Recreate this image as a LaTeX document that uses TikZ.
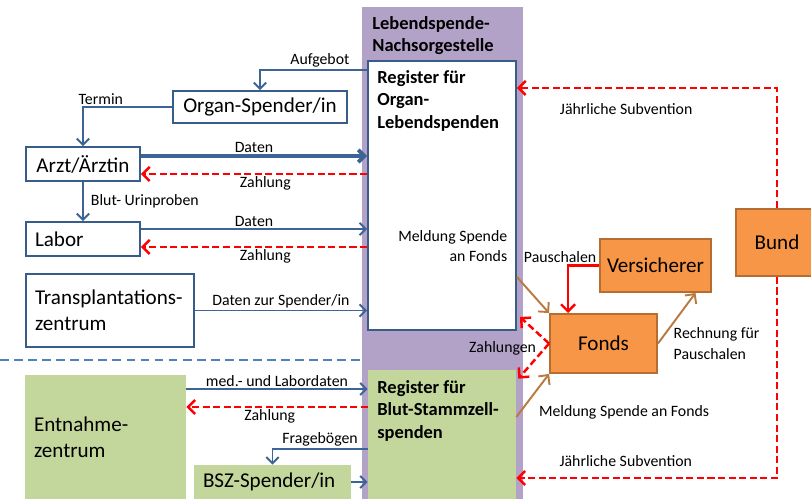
\documentclass[tikz,border=0pt]{standalone}
\usepackage{fontspec}
\setmainfont{Carlito}
\usetikzlibrary{arrows.meta,positioning,calc}
\definecolor{boxblue}{RGB}{56,93,138}
\definecolor{linkblue}{RGB}{60,100,150}
\definecolor{sepblue}{RGB}{79,129,189}
\definecolor{lilac}{RGB}{179,162,199}
\definecolor{bszgreen}{RGB}{195,214,155}
\definecolor{fondsorange}{RGB}{247,150,70}
\definecolor{orangeline}{RGB}{182,109,49}
\definecolor{brownarrow}{RGB}{185,122,63}

\begin{document}
\begin{tikzpicture}[x=0.02cm,y=-0.02cm,
  font=\fontsize{9}{11.5}\selectfont,
  big/.style={font=\fontsize{12}{15}\selectfont},
  box/.style={draw=boxblue,line width=1.1pt,fill=white,big,inner xsep=0.18cm,inner ysep=0pt},
  gbox/.style={fill=bszgreen,big,inner xsep=0.18cm,inner ysep=0pt},
  obox/.style={draw=orangeline,line width=1.1pt,fill=fondsorange,big,inner sep=0pt},
  head/.style={anchor=north west,align=left,font=\fontsize{10.5}{12.8}\selectfont\bfseries,inner sep=0pt},
  lbl/.style={inner sep=1pt,text=black},
  flow/.style={-{Straight Barb[length=3.5pt,width=7pt]},linkblue,line width=1.1pt},
  pay/.style={-{Straight Barb[length=4pt,width=8pt]},red,line width=1.4pt,dash pattern=on 4pt off 2pt},
  paysolid/.style={-{Straight Barb[length=4pt,width=8pt]},red,line width=1.4pt},
  fund/.style={-{Straight Barb[length=4pt,width=8pt]},brownarrow,line width=1.1pt},
  divider/.style={sepblue,line width=0.9pt,dash pattern=on 5pt off 3pt}
]
  \useasboundingbox (0,0) rectangle (811,499);

  % Nachsorgestelle mit den beiden Registern
  \node[fill=lilac,minimum width=3.22cm,minimum height=9.84cm,inner sep=0pt] (lns) at (442.5,253) {};
  \node[head] (lnstitle) at (372,16) {Lebendspende-\\Nachsorgestelle};
  \node[box,minimum width=2.96cm,minimum height=5.38cm,inner sep=0pt] (reg) at (442,195.5) {};
  \node[head] (regtitle) at (377,70) {Register für\\Organ-\\Lebendspenden};
  \node[gbox,minimum width=2.96cm,minimum height=2.58cm,inner sep=0pt] (bsz) at (442,434.5) {};
  \node[head] (bsztitle) at (377,380) {Register für\\Blut-Stammzell-\\spenden};

  % Beteiligte
  \node[box,minimum width=3.48cm,minimum height=0.64cm] (ospender) at (260,107) {Organ-Spender/in};
  \node[box,minimum width=2.28cm,minimum height=0.68cm] (arzt) at (83,164) {Arzt/Ärztin};
  \node[box,text width=1.92cm,align=left,minimum height=0.68cm] (labor) at (83,239) {Labor};
  \node[box,text width=3.0cm,align=left,minimum height=1.46cm] (tpz) at (110,310.5) {Transplantations-\\zentrum};
  \node[gbox,text width=2.86cm,align=left,minimum height=2.48cm] (entnahme) at (105.5,437) {Entnahme-\\zentrum};
  \node[gbox,text width=2.78cm,align=left,minimum height=0.68cm] (bszspender) at (272.5,482) {BSZ-Spender/in};
  \node[obox,minimum width=2.22cm,minimum height=1.06cm] (versicherer) at (655.5,265.5) {Versicherer};
  \node[obox,minimum width=2.14cm,minimum height=1.18cm] (fonds) at (603.5,343.5) {Fonds};
  \node[obox,minimum width=1.64cm,minimum height=1.34cm] (bund) at (777,242.5) {Bund};

  % Organ-Lebendspende
  \draw[flow] (reg.west |- 0,70) -| node[lbl,pos=0.22,above]{Aufgebot} (ospender.north);
  \draw[flow] (ospender.west) -| node[lbl,pos=0.4,above]{Termin} (arzt.north);
  \draw[flow,line width=2.2pt] (arzt.east |- 0,156) -- node[lbl,above]{Daten} (reg.west |- 0,156);
  \draw[pay] (reg.west |- 0,174) -- node[lbl,pos=0.45,below]{Zahlung} (arzt.east |- 0,174);
  \draw[flow] (arzt.south) -- node[lbl,right=3pt]{Blut- Urinproben} (labor.north);
  \draw[flow] (labor.east |- 0,229) -- node[lbl,above]{Daten} (reg.west |- 0,229);
  \draw[pay] (reg.west |- 0,247) -- node[lbl,pos=0.45,below]{Zahlung} (labor.east |- 0,247);
  \draw[flow] (tpz.east) -- node[lbl,above]{Daten zur Spender/in} (reg.west |- tpz.east);

  \draw[divider] (0,360) -- (lns.west |- 0,360);

  % Blutstammzellspende
  \draw[flow] (entnahme.east |- 0,389) -- node[lbl,above]{med.- und Labordaten} (bsz.west |- 0,389);
  \draw[pay] (bsz.west |- 0,407) -- node[lbl,pos=0.54,below]{Zahlung} (entnahme.east |- 0,407);
  \draw[flow] (bsz.west |- 0,449) -| node[lbl,pos=0.25,above]{Fragebögen} (bszspender.north);
  \draw[flow] (bszspender.east) -- (bsz.west |- bszspender.east);

  % Fonds, Versicherer, Bund
  \draw[fund] (reg.east |- 0,277) -- node[lbl,pos=0,anchor=east,xshift=-0.14cm,yshift=0.62cm,align=right]{Meldung Spende\\an Fonds} (fonds.north west);
  \draw[fund] (bsz.east |- 0,417) -- node[lbl,pos=0,anchor=west,xshift=0.4cm,yshift=0.1cm]{Meldung Spende an Fonds} (fonds.south west);
  \draw[fund] (fonds.east) -- node[lbl,pos=0,anchor=west,xshift=0.26cm,align=left]{Rechnung für\\Pauschalen} ([xshift=0.8cm]versicherer.south);
  \draw[paysolid] (versicherer.west) -| node[lbl,pos=0.5,above,xshift=-0.16cm]{Pauschalen} ([xshift=0.38cm]fonds.north west);
  \draw[pay] (fonds.west) -- node[lbl,pos=0,anchor=east,xshift=-0.2cm,yshift=-0.09cm]{Zahlungen} ([shift={(3,-14)}]reg.south east);
  \draw[pay] (fonds.west) -- ([shift={(2,9)}]bsz.north east);
  \draw[pay] (bund.north) |- node[lbl,pos=0.79,below=7pt]{Jährliche Subvention} (reg.east |- 0,88);
  \draw[pay] (bund.south) |- node[lbl,pos=0.79,above=5pt]{Jährliche Subvention} (bsz.east |- 0,478);
\end{tikzpicture}
\end{document}
